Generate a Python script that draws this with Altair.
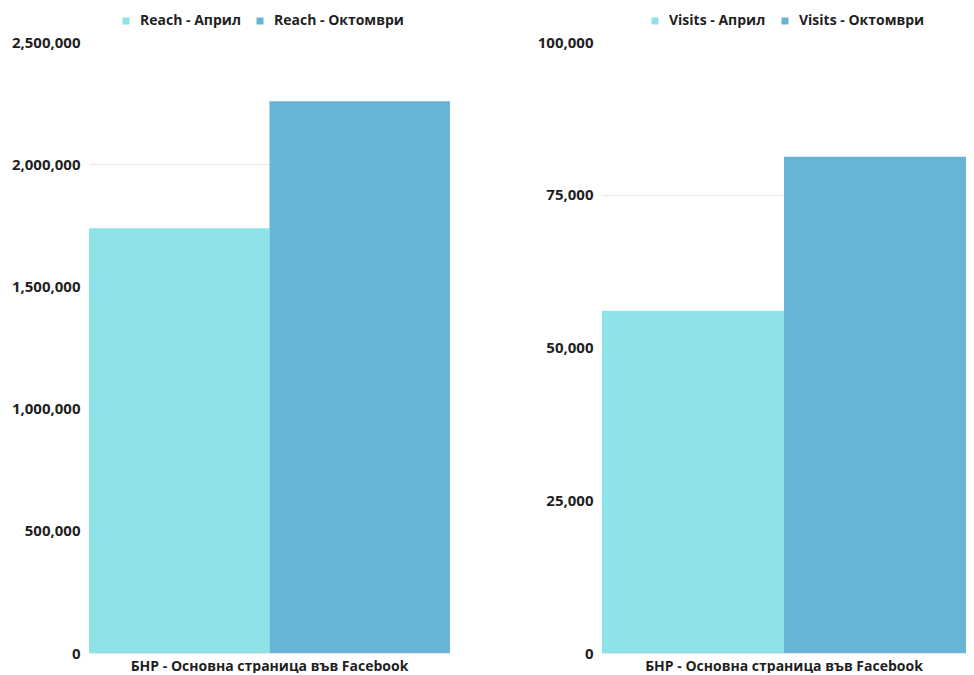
import altair as alt
import pandas as pd

category = ["БНР - Основна страница във Facebook"]
months = ["Април", "Октомври"]
reach_values = [1738000, 2258000]
visits_values = [56000, 81200]
reach_ticks = [0, 500000, 1000000, 1500000, 2000000, 2500000]
visits_ticks = [0, 25000, 50000, 75000, 100000]
colors = ["#8ee3e8", "#66b5d4"]

FONT = "Open Sans"
TEXT = "#1f1f1f"


def panel(metric, values, ticks, width, extent, legend_x):
    labels = [f"{metric} - {m}" for m in months]
    df = pd.DataFrame({
        "category": category * len(months),
        "series": labels,
        "value": values,
    })
    top = ticks[-1]
    return alt.Chart(df).mark_bar().encode(
        x=alt.X("category:N", title=None,
                scale=alt.Scale(paddingInner=0, paddingOuter=0),
                axis=alt.Axis(labelAngle=0, domain=False, ticks=False, labelPadding=6,
                              labelFontSize=14, labelFontWeight="bold", labelColor=TEXT,
                              labelFont=FONT, labelLimit=500)),
        xOffset=alt.XOffset("series:N", sort=labels,
                            scale=alt.Scale(paddingInner=0, paddingOuter=0)),
        y=alt.Y("value:Q", title=None,
                scale=alt.Scale(domain=[0, top], nice=False),
                axis=alt.Axis(values=ticks, format=",d", domain=False, ticks=False,
                              labelPadding=9, minExtent=extent, maxExtent=extent,
                              labelFontSize=15, labelFontWeight="bold", labelColor=TEXT,
                              labelFont=FONT, gridColor="#e6e6e6",
                              gridOpacity=alt.condition(f"datum.value >= {top}",
                                                        alt.value(0), alt.value(1)))),
        color=alt.Color("series:N", sort=labels,
                        scale=alt.Scale(domain=labels, range=colors),
                        legend=alt.Legend(title=None, orient="none", direction="horizontal",
                                          legendX=legend_x, legendY=-28,
                                          symbolType="square", symbolSize=49,
                                          symbolStrokeWidth=0,
                                          labelFont=FONT, labelFontSize=14,
                                          labelFontWeight="bold", labelColor=TEXT,
                                          labelOffset=7, columnPadding=12,
                                          labelLimit=400)),
    ).properties(width=width, height=611)


left = panel("Reach", reach_values, reach_ticks, 361, 81, 30)
right = panel("Visits", visits_values, visits_ticks, 364, 67, 46)

chart = alt.hconcat(left, right, spacing=85).resolve_scale(
    color="independent", y="independent", x="independent", xOffset="independent"
).properties(
    padding={"left": 0, "top": 6, "right": 0, "bottom": 0},
    background="white",
).configure_view(stroke=None)

chart.save("out.html", embed_options={"renderer": "svg", "actions": False})
